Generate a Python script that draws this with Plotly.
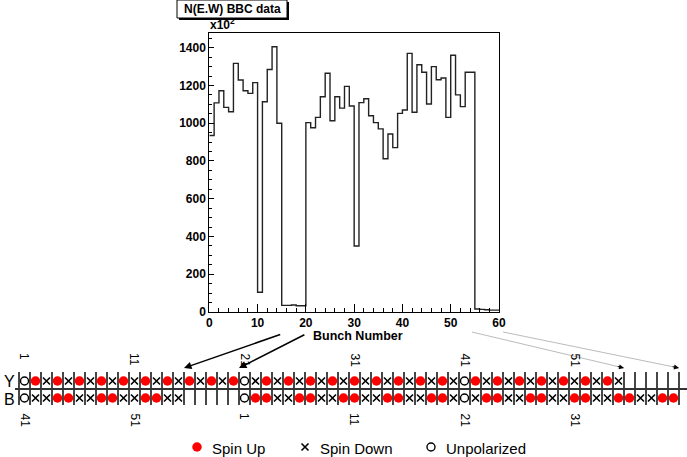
import plotly.graph_objects as go

W, H = 687, 457

# N(E.W) BBC counts per bunch (units of 10^2)
bunch = list(range(60))
counts = [
    935, 1108, 1172, 1084, 1061, 1317, 1229, 1172, 1158, 1215,
    105, 1114, 1285, 1405, 1000, 35, 35, 37, 33, 33,
    1003, 976, 1031, 1140, 1265, 1013, 1140, 1080, 1195, 1091,
    350, 1109, 1130, 1040, 1003, 970, 812, 943, 871, 1052,
    1070, 1370, 1058, 1310, 1270, 1102, 1300, 1230, 1240, 1031,
    1360, 1150, 1088, 1270, 1270, 16, 14, 12, 10, 10,
]

# spin patterns: o = unpolarized, u = spin up, d = spin down, . = empty
yellow_pattern = "oudududududududududu" + "odudududududududududud"[:20] + "oududududududud....."
blue_pattern = "odduudduudduudd....." + "ouudduudduudduudduud" + "oduudduudduudduudduu"
yellow_labels = ["1", "11", "21", "31", "41", "51"]
blue_labels = ["41", "51", "1", "11", "21", "31"]
label_cells = [1, 11, 21, 31, 41, 51]

# layout geometry (pixels)
FX0, FX1, FY0, FY1 = 209.3, 499.0, 33.0, 312.0
CELL0, CELLW = 19.0, 11.0
ROW_TOP, ROW_MID, ROW_BOT = 372, 389, 405
Y_ROW, B_ROW = 381, 398


def px(x):
    return x / W


def py(y):
    return 1 - y / H


def hist_px(b):
    return FX0 + (FX1 - FX0) * b / 60.0


def cell_px(c):
    return CELL0 + CELLW * c


fig = go.Figure()

edges = bunch + [bunch[-1] + 1]
fig.add_trace(go.Scatter(
    x=edges, y=counts + [counts[-1]], mode="lines", line_shape="hv",
    line=dict(color="#222222", width=1.4), xaxis="x", yaxis="y", showlegend=False,
))

# strip grid
n_cells = len(yellow_pattern)
gx, gy = [], []
for c in range(n_cells + 1):
    gx += [c, c, None]
    gy += [ROW_TOP, ROW_BOT, None]
fig.add_trace(go.Scatter(x=gx, y=gy, mode="lines", line=dict(color="#333333", width=1.8),
                         xaxis="x2", yaxis="y2", showlegend=False, hoverinfo="skip"))

sym = {
    "u": dict(symbol="circle", size=9.5, color="#ff0000", line=dict(width=0)),
    "d": dict(symbol="x-thin", size=7, color="black", line=dict(width=1.6, color="black")),
    "o": dict(symbol="circle-open", size=8, color="black", line=dict(width=1.4)),
}
for kind in ["u", "d", "o"]:
    xs, ys = [], []
    for row_y, pat in [(Y_ROW, yellow_pattern), (B_ROW, blue_pattern)]:
        for i, ch in enumerate(pat):
            if ch == kind:
                xs.append(i + 0.5)
                ys.append(row_y)
    fig.add_trace(go.Scatter(x=xs, y=ys, mode="markers", marker=sym[kind],
                             xaxis="x2", yaxis="y2", showlegend=False))

# legend markers
leg_x = [(197 - CELL0) / CELLW, (305 - CELL0) / CELLW, (431 - CELL0) / CELLW]
leg_text = ["Spin Up", "Spin Down", "Unpolarized"]
for kind, lx in zip(["u", "d", "o"], leg_x):
    fig.add_trace(go.Scatter(x=[lx], y=[447], mode="markers", marker=sym[kind],
                             xaxis="x2", yaxis="y2", showlegend=False))
ann = []
for lx, t in zip(leg_x, leg_text):
    ann.append(dict(x=px(cell_px(lx) + 13), y=py(448), xref="paper", yref="paper",
                    text=t, showarrow=False, xanchor="left", yanchor="middle",
                    font=dict(size=15, color="black")))

for c, t in zip(label_cells, yellow_labels):
    ann.append(dict(x=c - 0.5, y=351, xref="x2", yref="y2", text=t, textangle=90,
                    showarrow=False, xanchor="center", yanchor="top",
                    font=dict(size=12, color="black")))
for c, t in zip(label_cells, blue_labels):
    ann.append(dict(x=c - 0.5, y=411, xref="x2", yref="y2", text=t, textangle=90,
                    showarrow=False, xanchor="center", yanchor="top",
                    font=dict(size=12, color="black")))
ann.append(dict(x=px(9), y=py(Y_ROW), xref="paper", yref="paper", text="Y", showarrow=False,
                xanchor="center", yanchor="middle", font=dict(size=16, color="black")))
ann.append(dict(x=px(9), y=py(B_ROW + 1), xref="paper", yref="paper", text="B", showarrow=False,
                xanchor="center", yanchor="middle", font=dict(size=16, color="black")))

# title box
ann.append(dict(x=px(232), y=py(9), xref="paper", yref="paper", text="<b>N(E.W) BBC data</b>",
                showarrow=False, xanchor="center", yanchor="middle", font=dict(size=12, color="black")))
ann.append(dict(x=px(FX0 - 1), y=py(FY0 + 1), xref="paper", yref="paper", text="<b>x10<sup>2</sup></b>",
                showarrow=False, xanchor="left", yanchor="bottom", font=dict(size=12, color="black")))
ann.append(dict(x=px(405), y=py(336), xref="paper", yref="paper", text="<b>Bunch Number</b>",
                showarrow=False, xanchor="right", yanchor="middle", font=dict(size=12.5, color="black")))

# arrows from histogram to the strip
TAIL_Y, HEAD_Y = 334, 368
for b, c in [(15, 15), (20, 20)]:
    hx, tx = cell_px(c), hist_px(b)
    ann.append(dict(x=px(hx), y=py(HEAD_Y), xref="paper", yref="paper", ax=tx - hx, ay=TAIL_Y - HEAD_Y,
                    text="", showarrow=True, arrowhead=2, arrowsize=1, arrowwidth=1.5, arrowcolor="black"))
shapes = []
for b, c, off in [(55, 55, -3), (60, 60, 4)]:
    hx, tx = cell_px(c), hist_px(b) + off
    shapes.append(dict(type="line", xref="paper", yref="paper", x0=px(tx), y0=py(TAIL_Y - 2),
                       x1=px(hx), y1=py(HEAD_Y), line=dict(color="#bbbbbb", width=1)))
    dx, dy = hx - tx, HEAD_Y - (TAIL_Y - 2)
    n = (dx * dx + dy * dy) ** 0.5
    ann.append(dict(x=px(hx), y=py(HEAD_Y), xref="paper", yref="paper", ax=-dx / n * 8, ay=-dy / n * 8,
                    text="", showarrow=True, arrowhead=2, arrowsize=1, arrowwidth=1, arrowcolor="black"))

shapes.append(dict(type="rect", xref="paper", yref="paper", x0=px(179), y0=py(20), x1=px(289), y1=py(2),
                   fillcolor="black", line=dict(width=0)))
shapes.append(dict(type="rect", xref="paper", yref="paper", x0=px(177), y0=py(18), x1=px(287), y1=py(0),
                   fillcolor="white", line=dict(color="black", width=1)))
shapes.append(dict(type="line", xref="paper", yref="paper", x0=px(15), y0=py(ROW_MID), x1=px(687),
                   y1=py(ROW_MID), line=dict(color="#333333", width=1.8)))

tickfont = dict(size=12, color="black", weight="bold")
fig.update_layout(
    width=W, height=H, margin=dict(l=0, r=0, t=0, b=0, autoexpand=False),
    paper_bgcolor="white", plot_bgcolor="rgba(0,0,0,0)",
    font=dict(family="Liberation Sans, Arial, sans-serif"),
    annotations=ann, shapes=shapes,
    xaxis=dict(domain=[px(FX0), px(FX1)], range=[0, 60], anchor="y", showgrid=False, zeroline=False,
               showline=True, linecolor="black", linewidth=1, mirror=True, automargin=False,
               ticks="inside", ticklen=8, tickcolor="black", dtick=10, tick0=0, tickfont=tickfont,
               minor=dict(ticks="inside", ticklen=4, dtick=2, tickcolor="black")),
    yaxis=dict(domain=[py(FY1), py(FY0)], range=[0, 1478], anchor="x", showgrid=False, zeroline=False,
               showline=True, linecolor="black", linewidth=1, mirror=True, automargin=False,
               ticks="inside", ticklen=5, tickcolor="black", dtick=200, tick0=0, tickfont=tickfont,
               minor=dict(ticks="inside", ticklen=3, dtick=50, tickcolor="black")),
    xaxis2=dict(domain=[0, 1], range=[-CELL0 / CELLW, (W - CELL0) / CELLW], anchor="y2", visible=False,
                automargin=False),
    yaxis2=dict(domain=[0, 1], range=[H, 0], anchor="x2", visible=False, automargin=False),
)

fig.write_html("out.html", config={"displayModeBar": False},
               post_script="document.body.style.margin='0px';")
